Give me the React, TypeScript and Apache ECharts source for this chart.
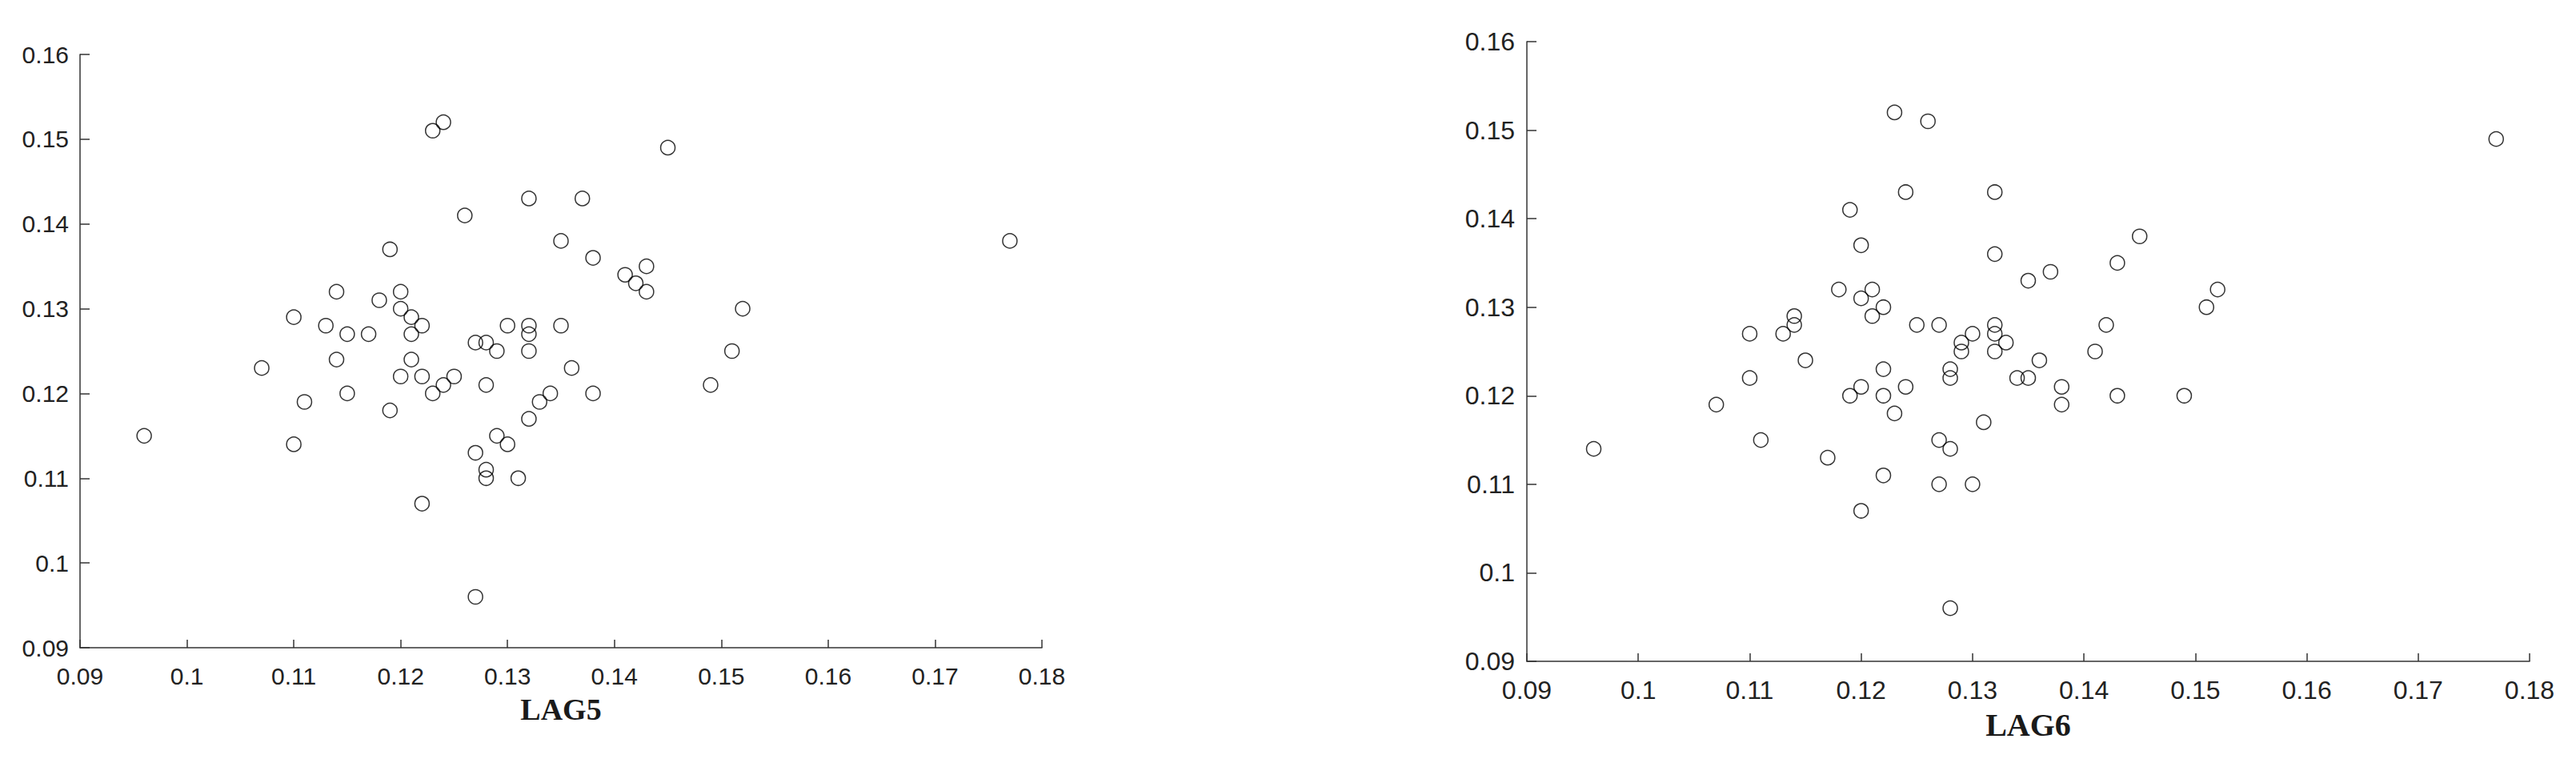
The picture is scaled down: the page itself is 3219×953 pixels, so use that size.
import React, { useEffect, useRef } from "react";
import * as echarts from "echarts";

// LAG5 panel (x = LAG5, y = value)
const LAG5_X = [
  0.096, 0.107, 0.110, 0.110, 0.111, 0.113, 0.114, 0.114, 0.115, 0.115,
  0.117, 0.118, 0.119, 0.119, 0.120, 0.120, 0.120, 0.121, 0.121, 0.121,
  0.122, 0.122, 0.122, 0.123, 0.124, 0.123, 0.124, 0.125, 0.126, 0.127,
  0.127, 0.127, 0.128, 0.128, 0.128, 0.128, 0.129, 0.129, 0.130, 0.130,
  0.131, 0.132, 0.132, 0.132, 0.132, 0.132, 0.133, 0.134, 0.135, 0.135,
  0.136, 0.137, 0.138, 0.138, 0.141, 0.142, 0.143, 0.143, 0.145, 0.149,
  0.151, 0.152, 0.177,
];
const LAG5_Y = [
  0.115, 0.123, 0.129, 0.114, 0.119, 0.128, 0.132, 0.124, 0.127, 0.120,
  0.127, 0.131, 0.137, 0.118, 0.132, 0.130, 0.122, 0.129, 0.127, 0.124,
  0.128, 0.122, 0.107, 0.151, 0.152, 0.120, 0.121, 0.122, 0.141, 0.126,
  0.113, 0.096, 0.126, 0.121, 0.111, 0.110, 0.125, 0.115, 0.128, 0.114,
  0.110, 0.143, 0.128, 0.127, 0.125, 0.117, 0.119, 0.120, 0.138, 0.128,
  0.123, 0.143, 0.136, 0.120, 0.134, 0.133, 0.135, 0.132, 0.149, 0.121,
  0.125, 0.130, 0.138,
];

// LAG6 panel
const LAG6_X = [
  0.096, 0.107, 0.110, 0.110, 0.111, 0.113, 0.114, 0.114, 0.115, 0.117,
  0.118, 0.119, 0.119, 0.120, 0.120, 0.120, 0.120, 0.121, 0.121, 0.122,
  0.122, 0.122, 0.122, 0.123, 0.123, 0.124, 0.124, 0.125, 0.126, 0.127,
  0.127, 0.127, 0.128, 0.128, 0.128, 0.128, 0.129, 0.129, 0.130, 0.130,
  0.131, 0.132, 0.132, 0.132, 0.132, 0.132, 0.133, 0.134, 0.135, 0.135,
  0.136, 0.137, 0.138, 0.138, 0.141, 0.142, 0.143, 0.143, 0.145, 0.149,
  0.151, 0.152, 0.177,
];
const LAG6_Y = [
  0.114, 0.119, 0.127, 0.122, 0.115, 0.127, 0.129, 0.128, 0.124, 0.113,
  0.132, 0.141, 0.120, 0.137, 0.131, 0.121, 0.107, 0.132, 0.129, 0.130,
  0.123, 0.120, 0.111, 0.152, 0.118, 0.143, 0.121, 0.128, 0.151, 0.128,
  0.115, 0.110, 0.123, 0.122, 0.114, 0.096, 0.126, 0.125, 0.127, 0.110,
  0.117, 0.143, 0.136, 0.128, 0.127, 0.125, 0.126, 0.122, 0.133, 0.122,
  0.124, 0.134, 0.121, 0.119, 0.125, 0.128, 0.135, 0.120, 0.138, 0.120,
  0.130, 0.132, 0.149,
];

const X_NAMES = ["LAG5", "LAG6"];
const X_MIN = 0.09;
const X_MAX = 0.18;
const Y_MIN = 0.09;
const Y_MAX = 0.16;
const STEP = 0.01;

const fmt = (v: number) => String(+v.toFixed(2));

export default function App() {
  const ref = useRef<HTMLDivElement>(null);

  useEffect(() => {
    if (!ref.current) return;
    const chart = echarts.init(ref.current, undefined, { renderer: "svg" });

    const axisColor = "#333";
    const labelColor = "#222";

    const panels = [
      { grid: { left: 100, top: 68, width: 1202, height: 741 }, font: 30, nameFont: 38, xMargin: 35, yMargin: 14, nameGap: 77 },
      { grid: { left: 1908, top: 52, width: 1253, height: 774 }, font: 32, nameFont: 40, xMargin: 36, yMargin: 15, nameGap: 79 },
    ];

    const mk = (xs: number[], ys: number[]) => xs.map((x, i) => [x, ys[i]]);
    const datasets = [mk(LAG5_X, LAG5_Y), mk(LAG6_X, LAG6_Y)];

    const option: any = {
      animation: false,
      backgroundColor: "#ffffff",
      grid: panels.map((p) => ({ ...p.grid, containLabel: false })),
      xAxis: panels.map((p, i) => ({
        gridIndex: i,
        type: "value",
        min: X_MIN,
        max: X_MAX,
        interval: STEP,
        axisLine: { show: true, onZero: false, lineStyle: { color: axisColor, width: 1.5 } },
        axisTick: { show: true, inside: true, length: 10, lineStyle: { color: axisColor, width: 1.5 } },
        axisLabel: {
          show: true,
          margin: p.xMargin,
          verticalAlign: "middle",
          fontSize: p.font,
          fontFamily: "Liberation Sans, Arial, sans-serif",
          color: labelColor,
          formatter: fmt,
          showMinLabel: true,
          showMaxLabel: true,
        },
        splitLine: { show: false },
        name: X_NAMES[i],
        nameLocation: "middle",
        nameGap: p.nameGap,
        nameTextStyle: {
          fontFamily: "Liberation Serif, Times New Roman, serif",
          fontWeight: "bold",
          fontSize: p.nameFont,
          color: "#1a1a1a",
          verticalAlign: "middle",
        },
      })),
      yAxis: panels.map((p, i) => ({
        gridIndex: i,
        type: "value",
        min: Y_MIN,
        max: Y_MAX,
        interval: STEP,
        axisLine: { show: true, onZero: false, lineStyle: { color: axisColor, width: 1.5 } },
        axisTick: { show: true, inside: true, length: 12, lineStyle: { color: axisColor, width: 1.5 } },
        axisLabel: {
          show: true,
          margin: p.yMargin,
          fontSize: p.font,
          fontFamily: "Liberation Sans, Arial, sans-serif",
          color: labelColor,
          formatter: fmt,
          showMinLabel: true,
          showMaxLabel: true,
        },
        splitLine: { show: false },
      })),
      series: datasets.map((d, i) => ({
        type: "scatter",
        xAxisIndex: i,
        yAxisIndex: i,
        data: d,
        symbol: "circle",
        symbolSize: 18,
        itemStyle: { color: "rgba(0,0,0,0)", borderColor: "#000", borderWidth: 1.5 },
        emphasis: { disabled: true },
      })),
    };

    chart.setOption(option);
    return () => chart.dispose();
  }, []);

  return (
    <div
      ref={ref}
      style={{ position: "absolute", left: 0, top: 0, width: 3219, height: 953, background: "#fff" }}
    />
  );
}
